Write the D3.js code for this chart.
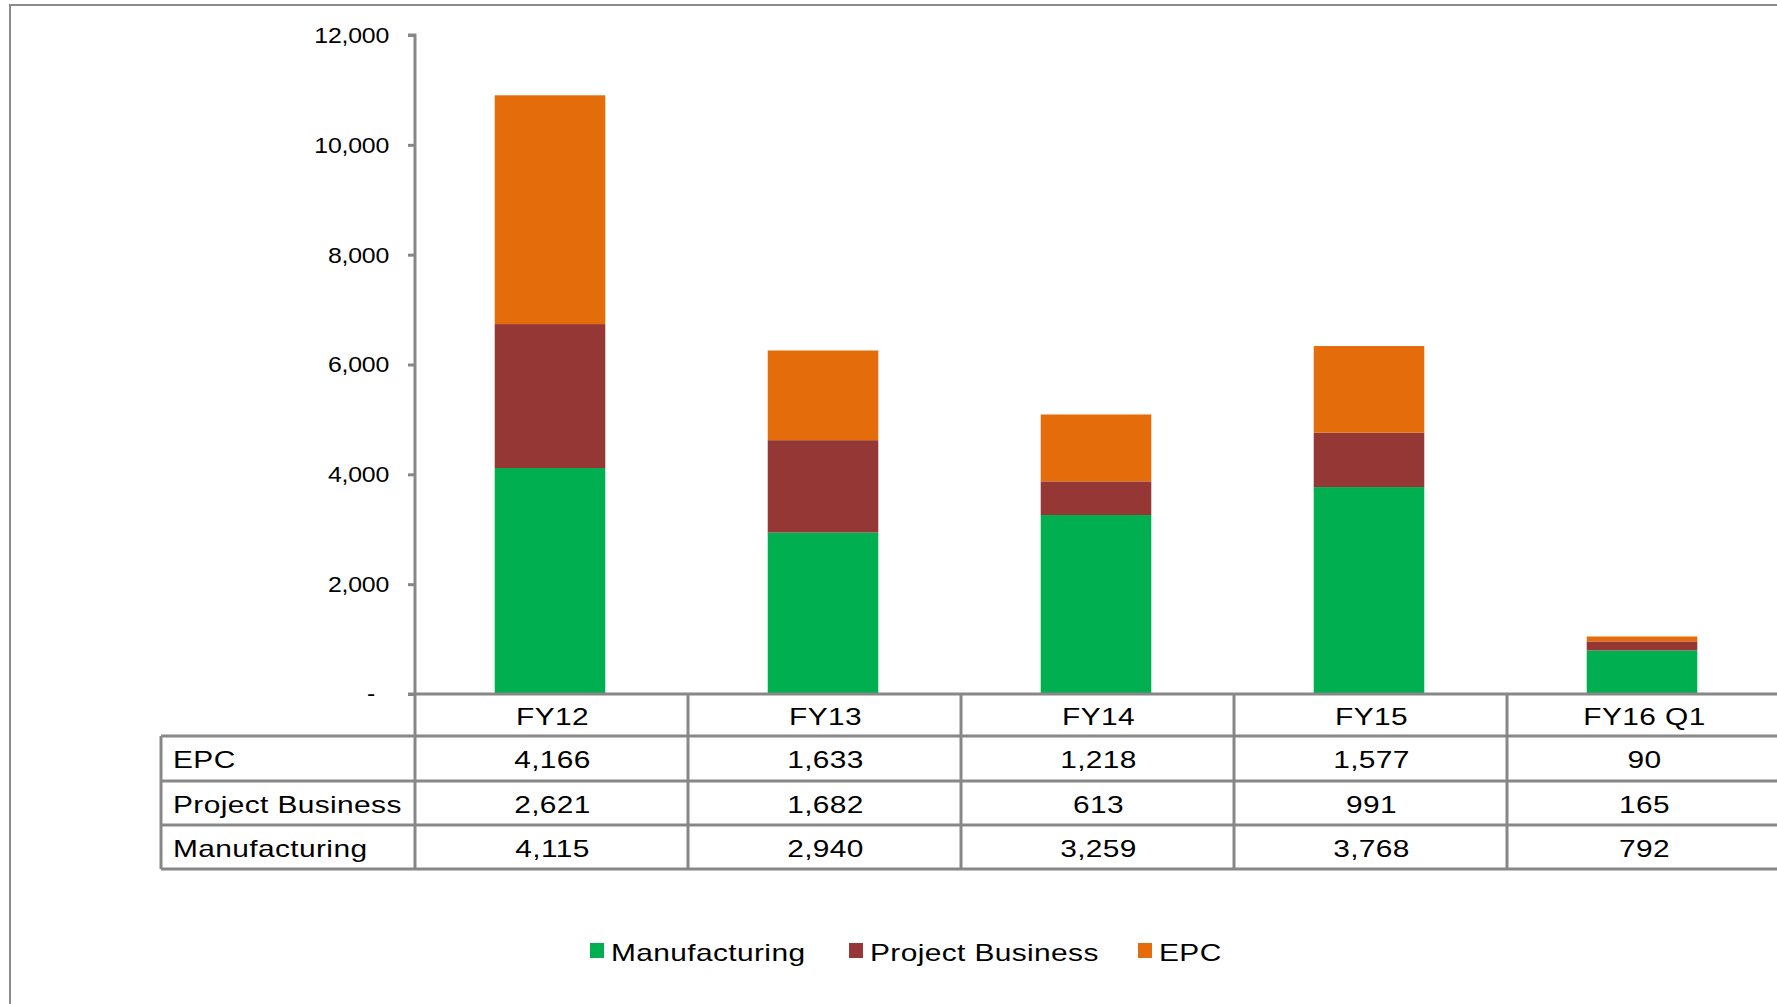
<!DOCTYPE html>
<html>
<head>
<meta charset="utf-8">
<script src="https://cdn.jsdelivr.net/npm/d3@7"></script>
<style>
  html, body { margin: 0; padding: 0; background: #fff; }
  svg { display: block; }
  text { font-family: "Liberation Sans", Arial, sans-serif; fill: #000; }
</style>
</head>
<body>
<svg id="chart" width="1777" height="1004"></svg>
<script>
// Revenue by segment, stacked per fiscal period
const categories = ["FY12", "FY13", "FY14", "FY15", "FY16 Q1"];
const seriesNames = ["Manufacturing", "Project Business", "EPC"]; // bottom to top
const manufacturing = [4115, 2940, 3259, 3768, 792];
const projectBusiness = [2621, 1682, 613, 991, 165];
const epc = [4166, 1633, 1218, 1577, 90];
const yTicks = [0, 2000, 4000, 6000, 8000, 10000, 12000];
const tableRows = ["EPC", "Project Business", "Manufacturing"]; // top to bottom in the data table

const colors = {
  "Manufacturing": "#00B050",
  "Project Business": "#953735",
  "EPC": "#E46C0A"
};
const valuesBySeries = {
  "Manufacturing": manufacturing,
  "Project Business": projectBusiness,
  "EPC": epc
};

const svg = d3.select("#chart");
const gridColor = "#878787";

// layout
const plotLeft = 415, plotRight = 1780, plotTop = 35, plotBottom = 694;
const tableLeft = 161;
const rowEdges = [694, 736, 781, 825, 869];

// table and legend text is drawn horizontally widened
const stretch = 1.3;
const tableFont = 23;
const tableSpacing = "0.3px";

function wideText(parent, str, px, py, anchor) {
  return parent.append("text")
    .attr("transform", `translate(${px},${py}) scale(${stretch},1)`)
    .attr("text-anchor", anchor || "start")
    .attr("font-size", tableFont)
    .attr("letter-spacing", tableSpacing)
    .text(str);
}

// outer frame (left and top edges visible, the rest runs off the canvas)
svg.append("rect")
  .attr("x", 10).attr("y", 5)
  .attr("width", 1800).attr("height", 1100)
  .attr("fill", "none").attr("stroke", "#8c8c8c").attr("stroke-width", 2);

const x = d3.scaleBand().domain(categories).range([plotLeft, plotRight]).paddingInner(0).paddingOuter(0);
const y = d3.scaleLinear().domain([0, 12000]).range([plotBottom, plotTop]);
const barW = x.bandwidth() * 0.405;

// stacked data
const table = categories.map((c, i) => {
  const row = { category: c };
  seriesNames.forEach(s => row[s] = valuesBySeries[s][i]);
  return row;
});
const stack = d3.stack().keys(seriesNames)(table);

svg.append("g").selectAll("g")
  .data(stack)
  .join("g")
  .attr("fill", d => colors[d.key])
  .selectAll("rect")
  .data(d => d)
  .join("rect")
  .attr("x", d => x(d.data.category) + (x.bandwidth() - barW) / 2 - 1.5)
  .attr("y", d => y(d[1]))
  .attr("width", barW)
  .attr("height", d => y(d[0]) - y(d[1]));

// y axis
const tickLen = 7, tickPad = 19;
const tickStretch = 1.13;
const yAxis = d3.axisLeft(y)
  .tickValues(yTicks)
  .tickSize(tickLen)
  .tickPadding(tickPad)
  .tickFormat(d => d === 0 ? "-" : d3.format(",")(d));

const gy = svg.append("g")
  .attr("transform", `translate(${plotLeft},0)`)
  .call(yAxis);
gy.select(".domain").attr("stroke", gridColor).attr("stroke-width", 3)
  .attr("d", `M-${tickLen},${plotTop}H0V${plotBottom}`);
gy.selectAll(".tick line").attr("stroke", gridColor).attr("stroke-width", 3);
gy.selectAll(".tick text")
  .attr("font-size", 22)
  .attr("letter-spacing", "-0.2px")
  .attr("fill", "#000")
  .attr("transform", `scale(${tickStretch},1)`)
  .attr("x", d => (d === 0 ? -(tickLen + tickPad + 14) : -(tickLen + tickPad)) / tickStretch)
  .attr("dy", d => d === 0 ? "0.3em" : "0.34em");

// data table grid
const grid = svg.append("g").attr("stroke", gridColor).attr("stroke-width", 3).attr("fill", "none");
grid.append("line").attr("x1", plotLeft - tickLen).attr("x2", plotRight).attr("y1", rowEdges[0]).attr("y2", rowEdges[0]);
rowEdges.slice(1).forEach(yy => {
  grid.append("line").attr("x1", tableLeft).attr("x2", plotRight).attr("y1", yy).attr("y2", yy);
});
grid.append("line").attr("x1", tableLeft).attr("x2", tableLeft).attr("y1", rowEdges[1]).attr("y2", rowEdges[4]);
categories.forEach(c => {
  grid.append("line").attr("x1", x(c)).attr("x2", x(c)).attr("y1", rowEdges[0]).attr("y2", rowEdges[4]);
});

const baseOffset = 9.5;
const cellText = svg.append("g");
// header cells
categories.forEach(c => {
  wideText(cellText, c, x(c) + x.bandwidth() / 2 + 1, (rowEdges[0] + rowEdges[1]) / 2 + baseOffset, "middle");
});
// row labels and values
tableRows.forEach((name, r) => {
  const cy = (rowEdges[r + 1] + rowEdges[r + 2]) / 2 + baseOffset;
  wideText(cellText, name, tableLeft + 12, cy, "start");
  valuesBySeries[name].forEach((v, i) => {
    wideText(cellText, d3.format(",")(v), x(categories[i]) + x.bandwidth() / 2 + 1, cy, "middle");
  });
});

// legend
const legendItems = [
  { name: "Manufacturing", x: 590 },
  { name: "Project Business", x: 849 },
  { name: "EPC", x: 1138 }
];
const legendY = 952;
const legend = svg.append("g");
legendItems.forEach(item => {
  legend.append("rect")
    .attr("x", item.x).attr("y", legendY - 9).attr("width", 14).attr("height", 15)
    .attr("fill", colors[item.name]);
  wideText(legend, item.name, item.x + 21, legendY + 8.5, "start");
});
</script>
</body>
</html>
